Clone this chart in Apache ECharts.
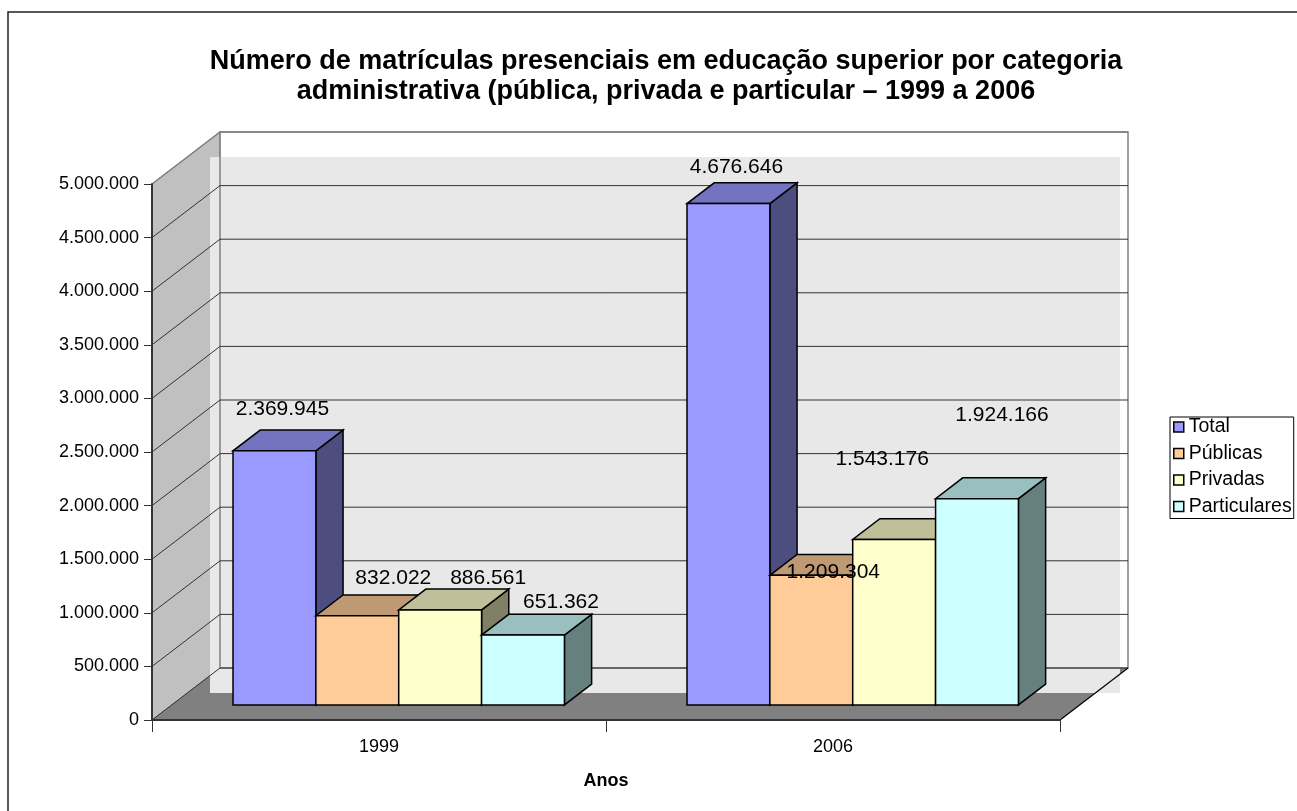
<!DOCTYPE html>
<html>
<head>
<meta charset="utf-8">
<title>Matrículas presenciais 1999 a 2006</title>
<script src="https://cdn.jsdelivr.net/npm/echarts@6.0.0/dist/echarts.min.js"></script>
<style>
  html, body { margin: 0; padding: 0; background: #fff; }
  #chart { width: 1297px; height: 811px; }
</style>
</head>
<body>
<div id="chart"></div>
<script>
// dados
var anos = ['1999', '2006'];
var total = [2369945, 4676646];
var publicas = [832022, 1209304];
var privadas = [886561, 1543176];
var particulares = [651362, 1924166];
var nomes = ['Total', 'Públicas', 'Privadas', 'Particulares'];
var yTicks = [0, 500000, 1000000, 1500000, 2000000, 2500000, 3000000, 3500000, 4000000, 4500000, 5000000];

// aparência
var cores = ['#9999ff', '#ffcc99', '#ffffcc', '#ccffff'];
var FONT = 'Arial, "Liberation Sans", sans-serif';
var DX = 68, DY = -52;          // profundidade do "3D"
var F0 = 0.29, F1 = 0.69;       // posição das barras na profundidade
var GROUP = 0.73;               // largura do grupo em relação à categoria
// ajuste manual dos rótulos (relativo ao topo frontal da barra)
var labelShift = [
  [[8, -42], [8, -36]],
  [[36, -38], [22, -3]],
  [[48, -32], [-12, -80]],
  [[38, -33], [25, -83]]
];

function fmt(v) {
  return String(v).replace(/\B(?=(\d{3})+(?!\d))/g, '.');
}
function shade(hex, k) {
  var n = parseInt(hex.slice(1), 16);
  var r = Math.round(((n >> 16) & 255) * k);
  var g = Math.round(((n >> 8) & 255) * k);
  var b = Math.round((n & 255) * k);
  return 'rgb(' + r + ',' + g + ',' + b + ')';
}

var myChart = echarts.init(document.getElementById('chart'));

function renderWalls(params, api) {
  var band = api.size([1, 0])[0];
  var left = api.coord([0, 0])[0] - band / 2;
  var right = api.coord([anos.length - 1, 0])[0] + band / 2;
  var y0 = api.coord([0, 0])[1];
  var yTop = api.coord([0, yTicks[yTicks.length - 1]])[1];
  var children = [];
  // parede lateral
  children.push({
    type: 'polygon',
    shape: { points: [[left, yTop], [left + DX, yTop + DY], [left + DX, y0 + DY], [left, y0]] },
    style: { fill: '#c0c0c0', stroke: '#808080', lineWidth: 1 }
  });
  // chão
  children.push({
    type: 'polygon',
    shape: { points: [[left, y0], [left + DX, y0 + DY], [right + DX, y0 + DY], [right, y0]] },
    style: { fill: '#808080', stroke: null }
  });
  // fundo cinza claro (deslocado como no original)
  children.push({
    type: 'rect',
    shape: { x: left + DX - 10, y: yTop + DY + 25, width: right - left + 2, height: y0 - yTop },
    style: { fill: '#e8e8e8' }
  });
  // moldura da parede do fundo
  children.push({
    type: 'rect',
    shape: { x: left + DX, y: yTop + DY, width: right - left, height: y0 - yTop },
    style: { fill: null, stroke: '#808080', lineWidth: 1.5 }
  });
  // linhas de grade
  yTicks.forEach(function (t, i) {
    var y = api.coord([0, t])[1];
    var last = i === yTicks.length - 1;
    children.push({
      type: 'polyline',
      shape: { points: [[left, y], [left + DX, y + DY], [right + DX, y + DY]] },
      style: { fill: null, stroke: last ? '#808080' : '#333', lineWidth: last ? 1.5 : 1 }
    });
  });
  // aresta direita do chão
  children.push({
    type: 'line',
    shape: { x1: right, y1: y0, x2: right + DX, y2: y0 + DY },
    style: { stroke: '#000', lineWidth: 1.2 }
  });
  return { type: 'group', children: children };
}

function makeBarRender(si) {
  return function (params, api) {
    var cat = api.value(0);
    var val = api.value(1);
    var band = api.size([1, 0])[0];
    var base = api.coord([cat, 0]);
    var top = api.coord([cat, val]);
    var w = band * GROUP / nomes.length;
    var x0 = base[0] - band * GROUP / 2 + si * w + F0 * DX;
    var x1 = x0 + w;
    var yb = base[1] + F0 * DY;
    var yt = top[1] + F0 * DY;
    var ddx = (F1 - F0) * DX, ddy = (F1 - F0) * DY;
    var c = cores[si];
    var line = { stroke: '#000', lineWidth: 1.5, lineJoin: 'miter' };
    var sh = labelShift[si][cat];
    return {
      type: 'group',
      children: [
        {
          type: 'polygon',
          shape: { points: [[x1, yb], [x1, yt], [x1 + ddx, yt + ddy], [x1 + ddx, yb + ddy]] },
          style: Object.assign({ fill: shade(c, 0.5) }, line)
        },
        {
          type: 'polygon',
          shape: { points: [[x0, yt], [x1, yt], [x1 + ddx, yt + ddy], [x0 + ddx, yt + ddy]] },
          style: Object.assign({ fill: shade(c, 0.75) }, line)
        },
        {
          type: 'rect',
          shape: { x: x0, y: yt, width: w, height: yb - yt },
          style: Object.assign({ fill: c }, line)
        },
        {
          type: 'text',
          z2: 100,
          style: {
            text: fmt(val),
            x: (x0 + x1) / 2 + sh[0],
            y: yt + sh[1],
            align: 'center',
            verticalAlign: 'middle',
            fontSize: 21,
            fontFamily: FONT,
            fill: '#000'
          }
        }
      ]
    };
  };
}

var valores = [total, publicas, privadas, particulares];

var series = [{
  type: 'custom',
  name: 'paredes',
  silent: true,
  z: -1,
  renderItem: renderWalls,
  data: [[0, 0]],
  encode: { x: 0, y: 1 }
}];
valores.forEach(function (arr, si) {
  series.push({
    type: 'custom',
    name: nomes[si],
    renderItem: makeBarRender(si),
    itemStyle: { color: cores[si] },
    data: arr.map(function (v, i) { return [i, v]; }),
    encode: { x: 0, y: 1 }
  });
});

var option = {
  backgroundColor: '#fff',
  animation: false,
  title: {
    text: 'Número de matrículas presenciais em educação superior por categoria\nadministrativa (pública, privada e particular – 1999 a 2006',
    left: 661,
    textAlign: 'center',
    top: 42,
    textStyle: { fontSize: 27, fontWeight: 'bold', fontFamily: FONT, color: '#000', lineHeight: 30 }
  },
  legend: {
    orient: 'vertical',
    left: 1170,
    top: 417,
    icon: 'rect',
    itemWidth: 10,
    itemHeight: 10,
    itemGap: 6.5,
    padding: [0, 2, 2, 3],
    backgroundColor: '#fff',
    borderColor: '#000',
    borderWidth: 1,
    borderRadius: 0,
    textStyle: { fontSize: 19.5, fontFamily: FONT, color: '#000', lineHeight: 18 },
    data: nomes.map(function (n, i) {
      return { name: n, itemStyle: { color: cores[i], borderColor: '#000', borderWidth: 1.5 } };
    })
  },
  grid: { left: 152, right: 237, top: 184, bottom: 91, containLabel: false },
  xAxis: {
    type: 'category',
    data: anos,
    boundaryGap: true,
    name: 'Anos',
    nameLocation: 'middle',
    nameGap: 52,
    nameTextStyle: { fontSize: 18, fontWeight: 'bold', fontFamily: FONT, color: '#000' },
    axisLine: { show: true, lineStyle: { color: '#333', width: 2 } },
    axisTick: { show: true, length: 12, alignWithLabel: false, lineStyle: { color: '#333' } },
    axisLabel: { fontSize: 18, fontFamily: FONT, color: '#000', margin: 18 },
    splitLine: { show: false }
  },
  yAxis: {
    type: 'value',
    min: yTicks[0],
    max: yTicks[yTicks.length - 1],
    interval: yTicks[1] - yTicks[0],
    axisLine: { show: true, lineStyle: { color: '#333', width: 2 } },
    axisTick: { show: true, length: 8, lineStyle: { color: '#333' } },
    axisLabel: { fontSize: 18, fontFamily: FONT, color: '#000', margin: 13, formatter: fmt },
    splitLine: { show: false }
  },
  graphic: [{
    type: 'rect',
    shape: { x: 8, y: 12, width: 1300, height: 820 },
    style: { fill: null, stroke: '#222', lineWidth: 1.5 },
    silent: true
  }],
  series: series
};

myChart.setOption(option);
</script>
</body>
</html>
